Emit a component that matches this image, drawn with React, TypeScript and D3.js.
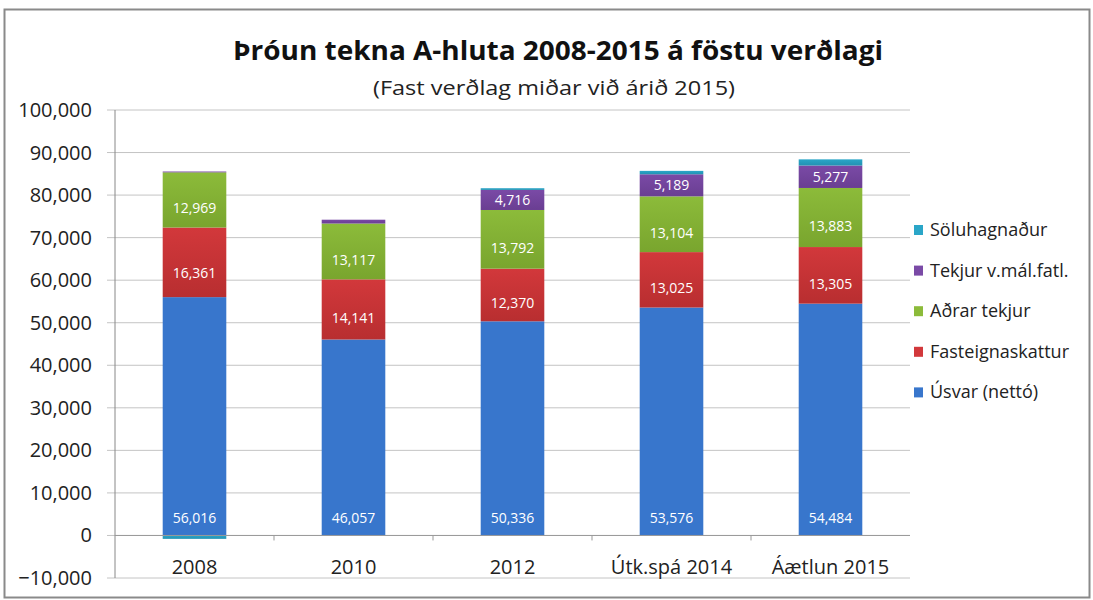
import React from "react";
import * as d3 from "d3";

const categories = ["2008", "2010", "2012", "Útk.spá 2014", "Áætlun 2015"];
const usvar = [56016, 46057, 50336, 53576, 54484];
const fasteign = [16361, 14141, 12370, 13025, 13305];
const adrar = [12969, 13117, 13792, 13104, 13883];
const tekjurFatl = [200, 900, 4716, 5189, 5277];
const soluhagnadur = [-800, 0, 400, 800, 1450];
const yTicks = [-10000, 0, 10000, 20000, 30000, 40000, 50000, 60000, 70000, 80000, 90000, 100000];

const seriesNames = ["Úsvar (nettó)", "Fasteignaskattur", "Aðrar tekjur", "Tekjur v.mál.fatl.", "Söluhagnaður"];
const seriesValues = [usvar, fasteign, adrar, tekjurFatl, soluhagnadur];
const colors = ["#3876cc", "#d2383b", "#8cbb3a", "#7a4aa6", "#2aa6c8"];
const colorsDark = ["#2f67b8", "#b82e30", "#79a52e", "#6a3e92", "#2392b2"];
const showLabelIdx = (s: number, i: number) => s <= 2 || (s === 3 && i >= 2);

export default function App() {
  const W = 1093, H = 600;
  const left = 115, right = 910, top = 110, bottom = 578;
  const x = d3.scaleBand().domain(categories).range([left, right]).paddingInner(0.6).paddingOuter(0.3);
  const y = d3.scaleLinear().domain([-10000, 100000]).range([bottom, top]);
  const rows = categories.map((c, i) => {
    const o: any = { cat: c };
    seriesNames.forEach((n, s) => (o[n] = seriesValues[s][i]));
    return o;
  });
  const stacked = d3.stack().keys(seriesNames).offset(d3.stackOffsetDiverging)(rows);
  const fmt = d3.format(",");
  const font = "Open Sans, Lato, sans-serif";
  const legendOrder = [4, 3, 2, 1, 0];
  const step = x.step();
  const bw = x.bandwidth();

  return (
    <svg width={W} height={H} style={{ position: "absolute", left: 0, top: 0 }} fontFamily={font}>
      <defs>
        {colors.map((c, s) => (
          <linearGradient key={s} id={`g${s}`} x1="0" y1="0" x2="0" y2="1">
            <stop offset="0" stopColor={s === 0 ? c : c} />
            <stop offset="1" stopColor={s === 0 ? c : colorsDark[s]} />
          </linearGradient>
        ))}
      </defs>
      <rect x={0} y={0} width={W} height={H} fill="#fff" />
      <rect x={4.5} y={9.5} width={1085} height={588} fill="none" stroke="#8a8a8a" strokeWidth={2} />
      <text x={558} y={60} textAnchor="middle" fontSize={27} fontWeight="bold" fill="#111"
        textLength={650} lengthAdjust="spacingAndGlyphs">
        Þróun tekna A-hluta 2008-2015 á föstu verðlagi
      </text>
      <text x={554} y={95} textAnchor="middle" fontSize={20} fill="#222"
        textLength={362} lengthAdjust="spacingAndGlyphs">
        (Fast verðlag miðar við árið 2015)
      </text>
      {yTicks.map((t) => (
        <g key={t}>
          <line x1={107} x2={right} y1={y(t)} y2={y(t)} stroke="#c4c4c4" strokeWidth={1} />
          <text x={92} y={y(t) + 7} textAnchor="end" fontSize={20} fill="#222">
            {fmt(t)}
          </text>
        </g>
      ))}
      <line x1={left} x2={left} y1={top} y2={bottom} stroke="#888" />
      {stacked.map((ser, s) =>
        ser.map((d, i) => {
          const y0 = y(d[0]), y1 = y(d[1]);
          const h = Math.abs(y0 - y1);
          if (h < 0.01) return null;
          const bx = x(categories[i])!;
          return (
            <g key={`${s}-${i}`}>
              <rect x={bx} y={Math.min(y0, y1)} width={bw} height={h} fill={`url(#g${s})`} />
              {showLabelIdx(s, i) && (
                <text
                  x={bx + bw / 2}
                  y={s === 0 ? y(0) - 12 : (y0 + y1) / 2 + 5 + (s === 3 ? 0 : h * 0.15)}
                  textAnchor="middle"
                  fontSize={14}
                  fill="#fff"
                >
                  {fmt(seriesValues[s][i])}
                </text>
              )}
            </g>
          );
        })
      )}
      <line x1={left} x2={right} y1={y(0)} y2={y(0)} stroke="#999" strokeWidth={1} />
      {categories.map((c, i) => (
        <g key={c}>
          {i < categories.length - 1 && (
            <line x1={x(c)! + bw + (step - bw) / 2} x2={x(c)! + bw + (step - bw) / 2} y1={y(0)} y2={y(0) + 5} stroke="#999" />
          )}
          <text x={x(c)! + bw / 2} y={y(0) + 39} textAnchor="middle" fontSize={20} fill="#222">
            {c}
          </text>
        </g>
      ))}
      {legendOrder.map((s, k) => (
        <g key={s}>
          <rect x={914} y={225 + k * 40.6} width={9} height={10} fill={colors[s]} />
          <text x={930} y={236 + k * 40.6} fontSize={18} fill="#222">
            {seriesNames[s]}
          </text>
        </g>
      ))}
    </svg>
  );
}
